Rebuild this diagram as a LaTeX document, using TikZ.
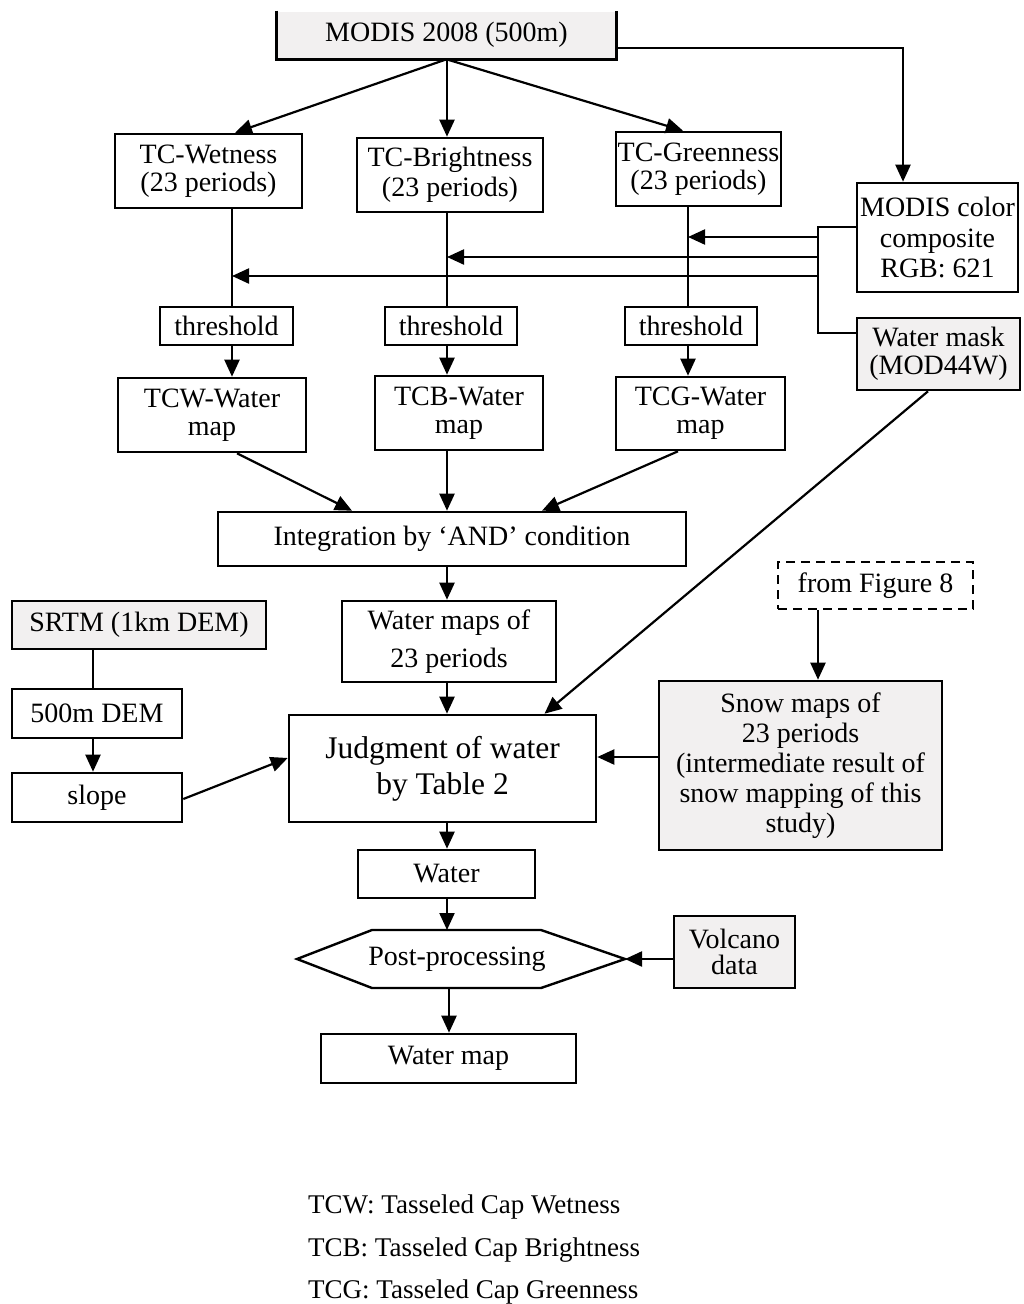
\documentclass[tikz,border=0pt]{standalone}
\usepackage{fontspec}
\setmainfont{Liberation Serif}
\usetikzlibrary{arrows.meta}
\definecolor{boxgray}{RGB}{242,240,240}
\begin{document}
\begin{tikzpicture}[x=1pt,y=-1pt,
 box/.style={draw, line width=2.6pt, inner sep=0pt, align=center, font=\fontsize{28}{28}\selectfont},
 gbox/.style={box, fill=boxgray},
 ln/.style={line width=2.2pt},
 arr/.style={line width=2.2pt, -{Triangle[length=17pt,width=15pt]}},
 txt/.style={font=\fontsize{27}{28}\selectfont, inner sep=0pt}]
\useasboundingbox (0,0) rectangle (1024,1304);

% column coordinates
\coordinate (cA) at (232,0);
\coordinate (cB) at (447,0);
\coordinate (cC) at (688,0);
\coordinate (cS) at (818,0);
\coordinate (cD) at (93,0);
\coordinate (cM) at (903,0);
\coordinate (cW) at (449,0);

% top box (cut at top)
\node[box, draw=none, fill=boxgray, minimum width=337pt, minimum height=46pt] (modis) at (446.5,35) {MODIS 2008 (500m)};
\draw[line width=2.6pt] (modis.north west) -- (modis.south west) -- (modis.south east) -- (modis.north east);

\node[box, minimum width=187pt, minimum height=74pt] (wet) at (208.5,171) {TC-Wetness\\(23 periods)};
\node[box, minimum width=186pt, minimum height=74pt, font=\fontsize{28}{30}\selectfont] (bri) at (450,175) {TC-Brightness\\(23 periods)};
\node[box, minimum width=165pt, minimum height=74pt] (gre) at (698.5,169) {TC-Greenness\\(23 periods)};
\node[box, minimum width=161pt, minimum height=109pt, font=\fontsize{28}{30.5}\selectfont] (comp) at (937.5,237.5) {MODIS color\\composite\\RGB: 621};
\node[gbox, minimum width=163pt, minimum height=72pt] (mask) at (938.5,354) {Water mask\\(MOD44W)};

\node[box, minimum width=133pt, minimum height=38pt] (th1) at (226.5,326) {threshold};
\node[box, minimum width=132pt, minimum height=38pt] (th2) at (451,326) {threshold};
\node[box, minimum width=132pt, minimum height=38pt] (th3) at (691,326) {threshold};

\node[box, minimum width=188pt, minimum height=74pt] (tcw) at (212,415) {TCW-Water\\map};
\node[box, minimum width=168pt, minimum height=74pt] (tcb) at (459,413) {TCB-Water\\map};
\node[box, minimum width=169pt, minimum height=73pt] (tcg) at (700.5,413.5) {TCG-Water\\map};

\node[box, minimum width=468pt, minimum height=54pt] (integ) at (452,539) {Integration by ‘AND’ condition};
\node[box, minimum width=214pt, minimum height=81pt, font=\fontsize{28}{38}\selectfont] (wm23) at (449,641.5) {Water maps of\\23 periods};
\node[box, minimum width=307pt, minimum height=107pt, font=\fontsize{31.5}{36}\selectfont] (judg) at (442.5,768.5) {Judgment of water\\by Table 2};
\node[box, minimum width=177pt, minimum height=48pt] (water) at (446.5,874) {Water};

% hexagon
\coordinate (hL) at (297,959);
\coordinate (hTL) at (372,930);
\coordinate (hTR) at (541,930);
\coordinate (hR) at (625,959);
\coordinate (hBR) at (541,988);
\coordinate (hBL) at (372,988);
\draw[line width=2.4pt, line join=miter] (hL) -- (hTL) -- (hTR) -- (hR) -- (hBR) -- (hBL) -- cycle;
\node[txt, font=\fontsize{28}{28}\selectfont] (post) at (457,959) {Post-processing};

\node[gbox, minimum width=121pt, minimum height=72pt, font=\fontsize{28}{26}\selectfont] (vol) at (734.5,952) {Volcano\\data};
\node[box, minimum width=255pt, minimum height=49pt] (wmap) at (448.5,1058.5) {Water map};

\node[gbox, minimum width=254pt, minimum height=48pt] (srtm) at (139,625) {SRTM (1km DEM)};
\node[box, minimum width=170pt, minimum height=49pt] (dem) at (97,713.5) {500m DEM};
\node[box, minimum width=170pt, minimum height=49pt] (slope) at (97,797.5) {slope};

\node[box, dash pattern=on 9pt off 6pt, minimum width=195pt, minimum height=47pt] (fig8) at (875.5,585.5) {from Figure 8};
\node[gbox, minimum width=283pt, minimum height=169pt, font=\fontsize{28}{30}\selectfont] (snow) at (800.5,765.5) {Snow maps of\\23 periods\\(intermediate result of\\snow mapping of this\\study)};

% legend
\node[txt, anchor=west] (leg1) at (308,1207) {TCW: Tasseled Cap Wetness};
\node[txt, anchor=west] (leg2) at (308,1250) {TCB: Tasseled Cap Brightness};
\node[txt, anchor=west] (leg3) at (308,1292) {TCG: Tasseled Cap Greenness};

% connectors from MODIS
\draw[arr] (modis.south) -- ([xshift=26.5pt]wet.north);
\draw[arr] (cB |- modis.south) -- (cB |- bri.north);
\draw[arr] (modis.south) -- ([xshift=-15.5pt]gre.north);
\draw[arr] ([yshift=-13pt]modis.east) -| (cM |- comp.north);

% columns
\draw[ln] (cA |- wet.south) -- (cA |- th1.north);
\draw[ln] (cB |- bri.south) -- (cB |- th2.north);
\draw[ln] (cC |- gre.south) -- (cC |- th3.north);
\draw[arr] (cA |- th1.south) -- (cA |- tcw.north);
\draw[arr] (cB |- th2.south) -- (cB |- tcb.north);
\draw[arr] (cC |- th3.south) -- (cC |- tcg.north);

% bus from composite and mask
\coordinate (b0) at (818,227);
\coordinate (b1) at (818,237);
\coordinate (b2) at (818,257);
\coordinate (b3) at (818,276);
\coordinate (b4) at (818,333);
\draw[ln] (comp.west |- b0) -- (b0) -- (b4) -- (mask.west |- b4);
\draw[arr] (b1) -- (cC |- b1);
\draw[arr] (b2) -- (cB |- b2);
\draw[arr] (b3) -- (cA |- b3);

% to integration
\draw[arr] ([xshift=25pt]tcw.south) -- ([xshift=-100pt]integ.north);
\draw[arr] (cB |- tcb.south) -- (cB |- integ.north);
\draw[arr] ([xshift=-22.5pt]tcg.south) -- ([xshift=90pt]integ.north);
\draw[arr] (cB |- integ.south) -- (cB |- wm23.north);
\draw[arr] (cB |- wm23.south) -- (cB |- judg.north);

% to judgment
\draw[arr] ([xshift=-10.5pt]mask.south) -- ([xshift=102pt]judg.north);
\draw[arr] (cS |- fig8.south) -- (cS |- snow.north);
\coordinate (sj) at ([yshift=8.5pt]snow.west);
\draw[arr] (sj) -- (judg.east |- sj);
\draw[ln] (cD |- srtm.south) -- (cD |- dem.north);
\draw[arr] (cD |- dem.south) -- (cD |- slope.north);
\draw[arr] ([yshift=-1.5pt]slope.east) -- ([yshift=10.5pt]judg.west);

% lower chain
\draw[arr] (cB |- judg.south) -- (cB |- water.north);
\draw[arr] (cB |- water.south) -- (cB |- hTL);
\draw[arr] (cW |- hBL) -- (cW |- wmap.north);
\draw[arr] (vol.west |- hR) -- (hR);
\end{tikzpicture}
\end{document}
